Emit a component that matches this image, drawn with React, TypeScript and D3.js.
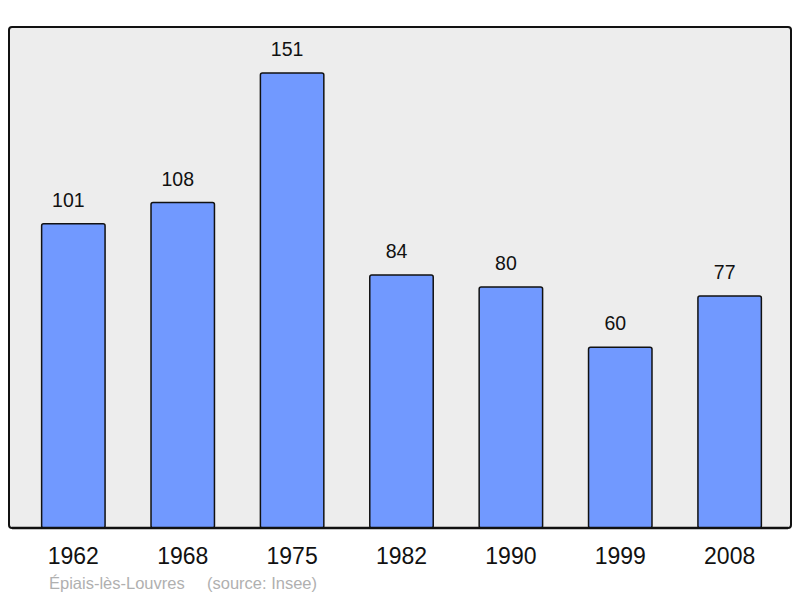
import React from 'react';
import * as d3 from 'd3';

const years = ['1962', '1968', '1975', '1982', '1990', '1999', '2008'];
const population = [101, 108, 151, 84, 80, 60, 77];
const townName = 'Épiais-lès-Louvres';
const sourceNote = '(source: Insee)';

const W = 800;
const H = 598;
const panel = { left: 9, top: 27, right: 791, bottom: 528 };

const App = () => {
  const x = d3.scaleBand<string>()
    .domain(years)
    .range([11, 792])
    .paddingInner(0.42)
    .paddingOuter(0.28);

  // 151 sits at y=73, baseline at 528
  const y = d3.scaleLinear()
    .domain([0, 151])
    .range([panel.bottom, 73]);

  const font = 'Liberation Sans, Arial, sans-serif';

  return (
    <svg width={W} height={H} style={{ position: 'absolute', left: 0, top: 0 }}>
      <rect
        x={panel.left}
        y={panel.top}
        width={panel.right - panel.left}
        height={panel.bottom - panel.top}
        rx={3}
        fill="#ededed"
        stroke="#111"
        strokeWidth={2}
      />
      {years.map((yr, i) => {
        const cx = (x(yr) ?? 0) + x.bandwidth() / 2;
        return (
          <g key={yr}>
            <rect
              x={x(yr)}
              y={y(population[i])}
              width={x.bandwidth()}
              height={panel.bottom - y(population[i])}
              rx={2}
              fill="#7199ff"
              stroke="#111"
              strokeWidth={1.5}
            />
            {/* value labels sit a little left of the bar centre */}
            <text
              x={cx - 5}
              y={y(population[i]) - 17}
              textAnchor="middle"
              fontFamily={font}
              fontSize={19.5}
              fill="#111"
            >
              {population[i]}
            </text>
            <text
              x={cx}
              y={564}
              textAnchor="middle"
              fontFamily={font}
              fontSize={23}
              fill="#111"
            >
              {yr}
            </text>
          </g>
        );
      })}
      {/* redraw panel bottom edge over bar feet */}
      <line x1={panel.left + 3} x2={panel.right - 3} y1={panel.bottom} y2={panel.bottom} stroke="#111" strokeWidth={2.5} />
      <text x={49} y={589} fontFamily={font} fontSize={16.5} fill="#b0b0b0">{townName}</text>
      <text x={207} y={589} fontFamily={font} fontSize={16.5} fill="#b0b0b0">{sourceNote}</text>
    </svg>
  );
};

export default App;
